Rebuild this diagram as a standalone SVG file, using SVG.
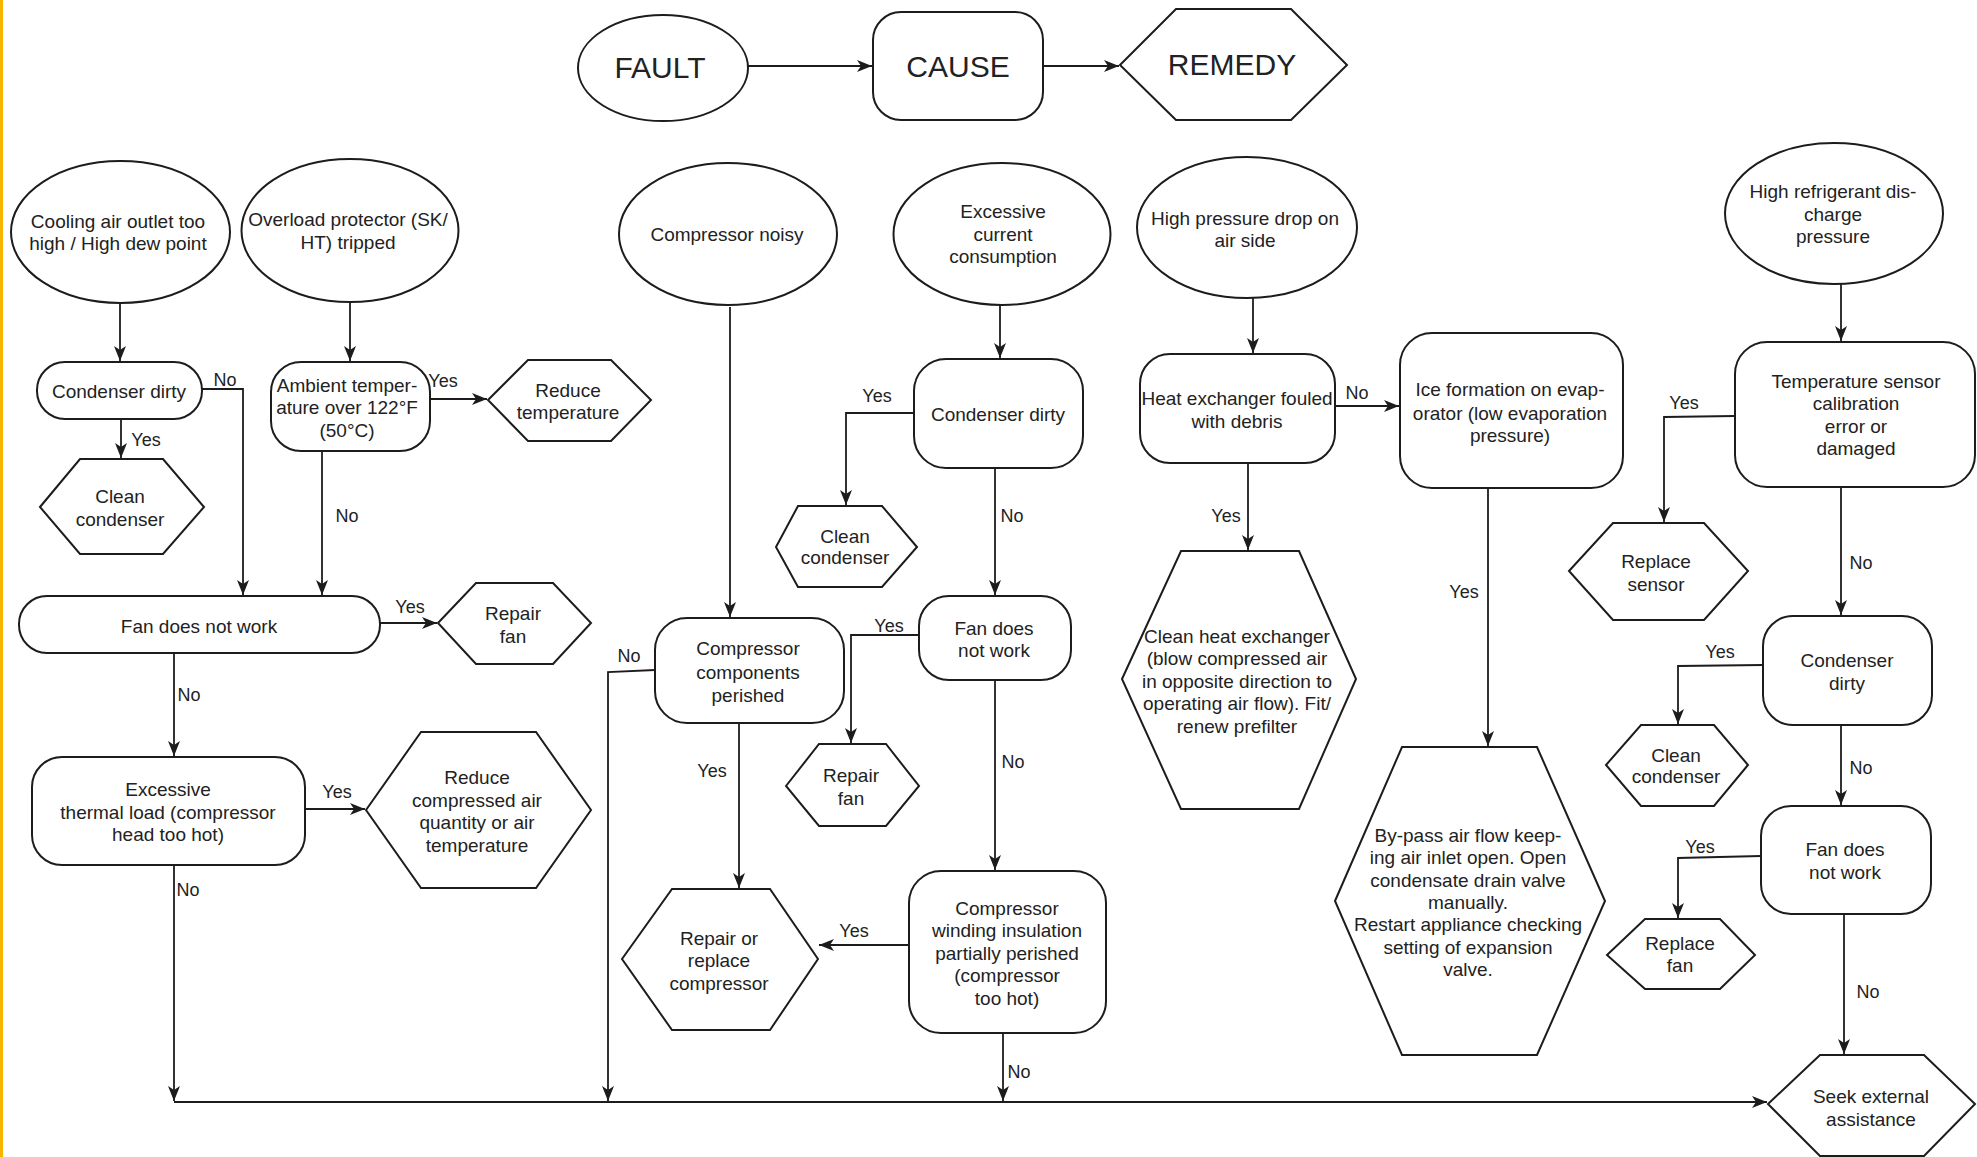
<svg xmlns="http://www.w3.org/2000/svg" width="1977" height="1157" viewBox="0 0 1977 1157">
<defs>
<style>
.s{fill:#fff;stroke:#1c1c1c;stroke-width:2}
.c{fill:none;stroke:#1c1c1c;stroke-width:1.8;marker-end:url(#a)}
.p{fill:none;stroke:#1c1c1c;stroke-width:2}
.t{font-family:"Liberation Sans",Arial,sans-serif;font-size:19px;fill:#222;text-anchor:middle}
.l{font-family:"Liberation Sans",Arial,sans-serif;font-size:18px;fill:#222;text-anchor:middle}
.b{font-family:"Liberation Sans",Arial,sans-serif;font-size:30px;fill:#222;text-anchor:middle}
</style>
<marker id="a" markerUnits="userSpaceOnUse" markerWidth="15" markerHeight="12" viewBox="0 0 15 12" refX="15" refY="6" orient="auto">
<path d="M0,0 L15,6 L0,12 L4,6 z" fill="#1c1c1c"/>
</marker>
</defs>
<rect x="0" y="0" width="1977" height="1157" fill="#fff"/>
<rect x="0" y="0" width="3" height="1157" fill="#F7B500"/>

<g id="connectors">
<path class="c" d="M748,66 H872"/>
<path class="c" d="M1043,66 H1119"/>
<path class="c" d="M120,303 V361"/>
<path class="c" d="M350,302 V361"/>
<path class="c" d="M121,419 V458"/>
<path class="c" d="M202,389 H243 V595"/>
<path class="c" d="M430,399 H487"/>
<path class="c" d="M322,451 V595"/>
<path class="c" d="M380,623 H437"/>
<path class="c" d="M174,653 V756"/>
<path class="c" d="M305,809 H365"/>
<path class="c" d="M174,865 V1101"/>
<path class="c" d="M174,1102 H1767"/>
<path class="c" d="M730,307 V617"/>
<path class="c" d="M1000,305 V358"/>
<path class="c" d="M914,413 H846 V505"/>
<path class="c" d="M995,468 V595"/>
<path class="c" d="M919,635 H851 V743"/>
<path class="c" d="M995,680 V870"/>
<path class="c" d="M655,670 L608,672 V1101"/>
<path class="c" d="M739,723 V888"/>
<path class="c" d="M909,945 H819"/>
<path class="c" d="M1003,1033 V1101"/>
<path class="c" d="M1253,298 V353"/>
<path class="c" d="M1335,406 H1399"/>
<path class="c" d="M1248,463 V550"/>
<path class="c" d="M1488,488 V746"/>
<path class="c" d="M1841,284 V341"/>
<path class="c" d="M1735,416 L1664,417 V522"/>
<path class="c" d="M1841,487 V615"/>
<path class="c" d="M1763,665 L1678,666 V724"/>
<path class="c" d="M1841,725 V805"/>
<path class="c" d="M1761,856 L1678,858 V918"/>
<path class="c" d="M1844,914 V1054"/>
<g id="labels">
<text class="l" x="146" y="446">Yes</text>
<text class="l" x="225" y="386">No</text>
<text class="l" x="443" y="387">Yes</text>
<text class="l" x="347" y="522">No</text>
<text class="l" x="410" y="613">Yes</text>
<text class="l" x="189" y="701">No</text>
<text class="l" x="337" y="798">Yes</text>
<text class="l" x="188" y="896">No</text>
<text class="l" x="877" y="402">Yes</text>
<text class="l" x="1012" y="522">No</text>
<text class="l" x="889" y="632">Yes</text>
<text class="l" x="1013" y="768">No</text>
<text class="l" x="629" y="662">No</text>
<text class="l" x="712" y="777">Yes</text>
<text class="l" x="854" y="937">Yes</text>
<text class="l" x="1019" y="1078">No</text>
<text class="l" x="1357" y="399">No</text>
<text class="l" x="1226" y="522">Yes</text>
<text class="l" x="1464" y="598">Yes</text>
<text class="l" x="1684" y="409">Yes</text>
<text class="l" x="1861" y="569">No</text>
<text class="l" x="1720" y="658">Yes</text>
<text class="l" x="1861" y="774">No</text>
<text class="l" x="1700" y="853">Yes</text>
<text class="l" x="1868" y="998">No</text>
</g>
</g>

<g id="legend-fault"><ellipse class="s" cx="663" cy="68" rx="85" ry="53"/><text class="b" x="660" y="78">FAULT</text></g>
<g id="legend-cause"><rect class="s" x="873" y="12" width="170" height="108" rx="28"/><text class="b" x="958" y="77">CAUSE</text></g>
<g id="legend-remedy"><polygon class="s" points="1120,65 1176,9 1291,9 1347,65 1291,120 1176,120"/><text class="b" x="1232" y="75">REMEDY</text></g>

<g id="f-cooling"><ellipse class="s" cx="120.5" cy="232" rx="109.5" ry="71"/><text class="t"><tspan x="118" y="228">Cooling air outlet too</tspan><tspan x="118" y="250">high / High dew point</tspan></text></g>
<g id="f-overload"><ellipse class="s" cx="350" cy="230.5" rx="108.5" ry="71.5"/><text class="t"><tspan x="348" y="226">Overload protector (SK/</tspan><tspan x="348" y="249">HT) tripped</tspan></text></g>
<g id="c-cond1"><rect class="s" x="37" y="362" width="165" height="57" rx="28"/><text class="t" x="119" y="398">Condenser dirty</text></g>
<g id="c-ambient"><rect class="s" x="271" y="362" width="159" height="89" rx="30"/><text class="t"><tspan x="347" y="392">Ambient temper-</tspan><tspan x="347" y="414">ature over 122°F</tspan><tspan x="347" y="437">(50°C)</tspan></text></g>
<g id="r-reducetemp"><polygon class="s" points="488,400 528,360 611,360 651,400 611,441 528,441"/><text class="t"><tspan x="568" y="397">Reduce</tspan><tspan x="568" y="419">temperature</tspan></text></g>
<g id="r-clean1"><polygon class="s" points="40,507 80,459 163,459 204,507 163,554 80,554"/><text class="t"><tspan x="120" y="503">Clean</tspan><tspan x="120" y="526">condenser</tspan></text></g>
<g id="c-fan1"><rect class="s" x="19" y="596" width="361" height="57" rx="28"/><text class="t" x="199" y="633">Fan does not work</text></g>
<g id="r-repairfan1"><polygon class="s" points="438,623 476,583 553,583 591,623 553,664 476,664"/><text class="t"><tspan x="513" y="620">Repair</tspan><tspan x="513" y="643">fan</tspan></text></g>
<g id="c-thermal"><rect class="s" x="32" y="757" width="273" height="108" rx="30"/><text class="t"><tspan x="168" y="796">Excessive</tspan><tspan x="168" y="819">thermal load (compressor</tspan><tspan x="168" y="841">head too hot)</tspan></text></g>
<g id="r-reduceair"><polygon class="s" points="366,810 421,732 536,732 591,810 536,888 421,888"/><text class="t"><tspan x="477" y="784">Reduce</tspan><tspan x="477" y="807">compressed air</tspan><tspan x="477" y="829">quantity or air</tspan><tspan x="477" y="852">temperature</tspan></text></g>

<g id="f-noisy"><ellipse class="s" cx="728" cy="234" rx="109" ry="71"/><text class="t" x="727" y="241">Compressor noisy</text></g>
<g id="f-current"><ellipse class="s" cx="1002" cy="234" rx="108.5" ry="71"/><text class="t"><tspan x="1003" y="218">Excessive</tspan><tspan x="1003" y="241">current</tspan><tspan x="1003" y="263">consumption</tspan></text></g>
<g id="c-cond2"><rect class="s" x="914" y="359" width="169" height="109" rx="32"/><text class="t" x="998" y="421">Condenser dirty</text></g>
<g id="r-clean2"><polygon class="s" points="776,547 798,506 882,506 917,547 882,587 798,587"/><text class="t"><tspan x="845" y="543">Clean</tspan><tspan x="845" y="564">condenser</tspan></text></g>
<g id="c-fan2"><rect class="s" x="919" y="596" width="152" height="84" rx="30"/><text class="t"><tspan x="994" y="635">Fan does</tspan><tspan x="994" y="657">not work</tspan></text></g>
<g id="r-repairfan2"><polygon class="s" points="786,786 819,744 886,744 919,786 886,826 819,826"/><text class="t"><tspan x="851" y="782">Repair</tspan><tspan x="851" y="805">fan</tspan></text></g>
<g id="c-components"><rect class="s" x="655" y="618" width="189" height="105" rx="32"/><text class="t"><tspan x="748" y="655">Compressor</tspan><tspan x="748" y="679">components</tspan><tspan x="748" y="702">perished</tspan></text></g>
<g id="r-compressor"><polygon class="s" points="622,959 672,889 770,889 818,959 770,1030 672,1030"/><text class="t"><tspan x="719" y="945">Repair or</tspan><tspan x="719" y="967">replace</tspan><tspan x="719" y="990">compressor</tspan></text></g>
<g id="c-winding"><rect class="s" x="909" y="871" width="197" height="162" rx="32"/><text class="t"><tspan x="1007" y="915">Compressor</tspan><tspan x="1007" y="937">winding insulation</tspan><tspan x="1007" y="960">partially perished</tspan><tspan x="1007" y="982">(compressor</tspan><tspan x="1007" y="1005">too hot)</tspan></text></g>

<g id="f-pressuredrop"><ellipse class="s" cx="1247" cy="227.5" rx="110" ry="70.5"/><text class="t"><tspan x="1245" y="225">High pressure drop on</tspan><tspan x="1245" y="247">air side</tspan></text></g>
<g id="c-heatex"><rect class="s" x="1140" y="354" width="195" height="109" rx="30"/><text class="t"><tspan x="1237" y="405">Heat exchanger fouled</tspan><tspan x="1237" y="428">with debris</tspan></text></g>
<g id="c-ice"><rect class="s" x="1400" y="333" width="223" height="155" rx="32"/><text class="t"><tspan x="1510" y="396">Ice formation on evap-</tspan><tspan x="1510" y="420">orator (low evaporation</tspan><tspan x="1510" y="442">pressure)</tspan></text></g>
<g id="r-cleanhx"><polygon class="s" points="1122,679 1181,551 1299,551 1356,679 1299,809 1181,809"/><text class="t"><tspan x="1237" y="643">Clean heat exchanger</tspan><tspan x="1237" y="665">(blow compressed air</tspan><tspan x="1237" y="688">in opposite direction to</tspan><tspan x="1237" y="710">operating air flow). Fit/</tspan><tspan x="1237" y="733">renew prefilter</tspan></text></g>
<g id="r-bypass"><polygon class="s" points="1335,901 1402,747 1537,747 1605,901 1537,1055 1402,1055"/><text class="t"><tspan x="1468" y="842">By-pass air flow keep-</tspan><tspan x="1468" y="864">ing air inlet open. Open</tspan><tspan x="1468" y="887">condensate drain valve</tspan><tspan x="1468" y="909">manually.</tspan><tspan x="1468" y="931">Restart appliance checking</tspan><tspan x="1468" y="954">setting of expansion</tspan><tspan x="1468" y="976">valve.</tspan></text></g>

<g id="f-discharge"><ellipse class="s" cx="1834" cy="213.5" rx="109" ry="70.5"/><text class="t"><tspan x="1833" y="198">High refrigerant dis-</tspan><tspan x="1833" y="221">charge</tspan><tspan x="1833" y="243">pressure</tspan></text></g>
<g id="c-sensor"><rect class="s" x="1735" y="342" width="240" height="145" rx="32"/><text class="t"><tspan x="1856" y="388">Temperature sensor</tspan><tspan x="1856" y="410">calibration</tspan><tspan x="1856" y="433">error or</tspan><tspan x="1856" y="455">damaged</tspan></text></g>
<g id="r-sensor"><polygon class="s" points="1569,571 1613,523 1704,523 1748,571 1704,620 1613,620"/><text class="t"><tspan x="1656" y="568">Replace</tspan><tspan x="1656" y="591">sensor</tspan></text></g>
<g id="c-cond3"><rect class="s" x="1763" y="616" width="169" height="109" rx="30"/><text class="t"><tspan x="1847" y="667">Condenser</tspan><tspan x="1847" y="690">dirty</tspan></text></g>
<g id="r-clean3"><polygon class="s" points="1606,765 1641,725 1714,725 1748,765 1714,806 1641,806"/><text class="t"><tspan x="1676" y="762">Clean</tspan><tspan x="1676" y="783">condenser</tspan></text></g>
<g id="c-fan3"><rect class="s" x="1761" y="806" width="170" height="108" rx="30"/><text class="t"><tspan x="1845" y="856">Fan does</tspan><tspan x="1845" y="879">not work</tspan></text></g>
<g id="r-replacefan"><polygon class="s" points="1607,955 1645,919 1720,919 1755,955 1720,989 1645,989"/><text class="t"><tspan x="1680" y="950">Replace</tspan><tspan x="1680" y="972">fan</tspan></text></g>
<g id="r-seek"><polygon class="s" points="1768,1104 1820,1055 1924,1055 1975,1104 1924,1156 1820,1156"/><text class="t"><tspan x="1871" y="1103">Seek external</tspan><tspan x="1871" y="1126">assistance</tspan></text></g>
</svg>
